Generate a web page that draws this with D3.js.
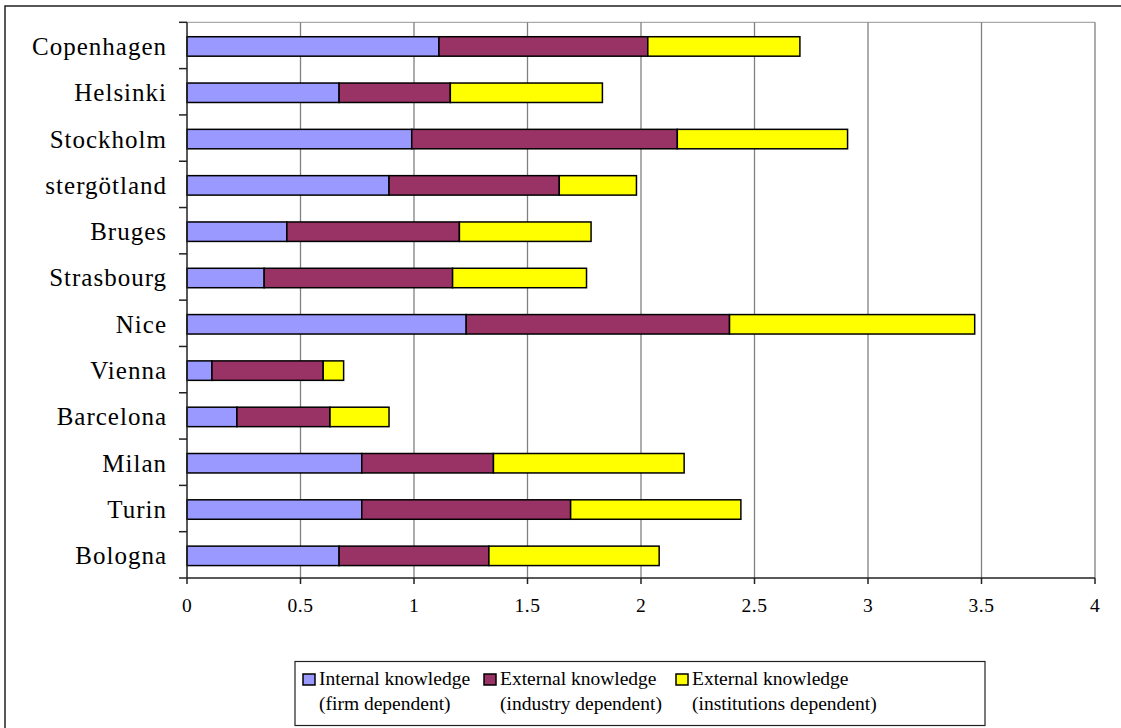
<!DOCTYPE html>
<html>
<head>
<meta charset="utf-8">
<script src="https://cdn.jsdelivr.net/npm/d3@7"></script>
<style>
  html, body { margin: 0; padding: 0; background: #fff; }
  svg { display: block; }
  text { font-family: "Liberation Serif", "Times New Roman", serif; fill: #000; }
</style>
</head>
<body>
<svg id="chart" width="1121" height="728"></svg>
<script>
const categories = ["Copenhagen", "Helsinki", "Stockholm", "stergötland", "Bruges", "Strasbourg",
                    "Nice", "Vienna", "Barcelona", "Milan", "Turin", "Bologna"];
const internalFirm = [1.11, 0.67, 0.99, 0.89, 0.44, 0.34, 1.23, 0.11, 0.22, 0.77, 0.77, 0.67];
const externalIndustry = [0.92, 0.49, 1.17, 0.75, 0.76, 0.83, 1.16, 0.49, 0.41, 0.58, 0.92, 0.66];
const externalInstitutions = [0.67, 0.67, 0.75, 0.34, 0.58, 0.59, 1.08, 0.09, 0.26, 0.84, 0.75, 0.75];
const seriesNames = [
  ["Internal knowledge", "(firm dependent)"],
  ["External knowledge", "(industry dependent)"],
  ["External knowledge", "(institutions dependent)"]
];
const seriesColors = ["#9999FF", "#993366", "#FFFF00"];
const xTicks = [0, 0.5, 1, 1.5, 2, 2.5, 3, 3.5, 4];

const svg = d3.select("#chart");

// outer frame
svg.append("rect").attr("x", 5).attr("y", 6).attr("width", 1140).attr("height", 740)
  .attr("fill", "none").attr("stroke", "#222").attr("stroke-width", 1.5);

const pLeft = 187, pRight = 1095, pTop = 22.3, pBottom = 578;
const x = d3.scaleLinear().domain([0, 4]).range([pLeft, pRight]);
const y = d3.scaleBand().domain(categories).range([pTop, pBottom]).paddingInner(0.58).paddingOuter(0.29);

// plot top border
svg.append("line").attr("x1", pLeft).attr("x2", pRight).attr("y1", pTop).attr("y2", pTop)
  .attr("stroke", "#aaa").attr("stroke-width", 1.2);

// gridlines
svg.append("g").selectAll("line").data(xTicks.filter(d => d > 0)).join("line")
  .attr("x1", d => x(d)).attr("x2", d => x(d)).attr("y1", pTop).attr("y2", pBottom)
  .attr("stroke", "#808080").attr("stroke-width", 1.3);

// stacked data
const rows = categories.map((c, i) => ({cat: c, vals: [internalFirm[i], externalIndustry[i], externalInstitutions[i]]}));
const segs = [];
rows.forEach(r => {
  let acc = 0;
  r.vals.forEach((v, k) => { segs.push({cat: r.cat, k, x0: acc, x1: acc + v}); acc += v; });
});

svg.append("g").selectAll("rect").data(segs).join("rect")
  .attr("x", d => x(d.x0)).attr("width", d => x(d.x1) - x(d.x0))
  .attr("y", d => y(d.cat) + 1).attr("height", y.bandwidth())
  .attr("fill", d => seriesColors[d.k]).attr("stroke", "#000").attr("stroke-width", 1.5);

// left axis
const step = y.step();
const boundaries = d3.range(categories.length + 1).map(i => pTop + i * step);
const ax = svg.append("g");
ax.append("line").attr("x1", pLeft).attr("x2", pLeft).attr("y1", pTop).attr("y2", pBottom)
  .attr("stroke", "#222").attr("stroke-width", 1.5);
ax.selectAll("line.t").data(boundaries).join("line").attr("class", "t")
  .attr("x1", pLeft - 8).attr("x2", pLeft).attr("y1", d => d).attr("y2", d => d)
  .attr("stroke", "#222").attr("stroke-width", 1.5);
ax.selectAll("text").data(categories).join("text")
  .attr("x", 167).attr("y", d => y(d) + y.bandwidth() / 2 + 1)
  .attr("text-anchor", "end").attr("dominant-baseline", "central")
  .attr("font-size", 25).attr("letter-spacing", 1).text(d => d);

// bottom axis
const bx = svg.append("g");
bx.append("line").attr("x1", pLeft).attr("x2", pRight).attr("y1", pBottom).attr("y2", pBottom)
  .attr("stroke", "#222").attr("stroke-width", 1.5);
bx.selectAll("line.t").data(xTicks).join("line").attr("class", "t")
  .attr("x1", d => x(d)).attr("x2", d => x(d)).attr("y1", pBottom).attr("y2", pBottom + 6)
  .attr("stroke", "#222").attr("stroke-width", 1.5);
bx.selectAll("text").data(xTicks).join("text")
  .attr("x", d => x(d)).attr("y", 612).attr("text-anchor", "middle")
  .attr("font-size", 19.5).attr("letter-spacing", 0.5).text(d => d);

// legend
const lg = svg.append("g");
lg.append("rect").attr("x", 295).attr("y", 661.5).attr("width", 690).attr("height", 64)
  .attr("fill", "#fff").attr("stroke", "#222").attr("stroke-width", 1.2);
const legendX = [303, 484, 676];
seriesNames.forEach((nm, k) => {
  lg.append("rect").attr("x", legendX[k]).attr("y", 674).attr("width", 12).attr("height", 11)
    .attr("fill", seriesColors[k]).attr("stroke", "#000").attr("stroke-width", 1.5);
  const t = lg.append("text").attr("x", legendX[k] + 16).attr("y", 685).attr("font-size", 19.5);
  t.append("tspan").attr("x", legendX[k] + 16).attr("y", 685).text(nm[0]);
  t.append("tspan").attr("x", legendX[k] + 16).attr("y", 710).text(nm[1]);
});
</script>
</body>
</html>
